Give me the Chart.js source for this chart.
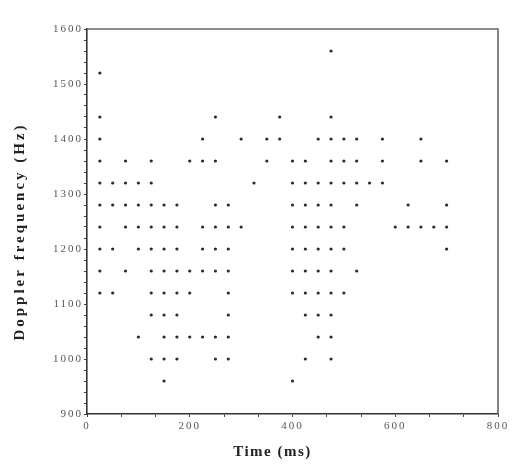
<!DOCTYPE html>
<html>
<head>
<meta charset="utf-8">
<script src="https://cdn.jsdelivr.net/npm/chart.js@4/dist/chart.umd.min.js"></script>
<style>
  html, body { margin: 0; padding: 0; background: #fff; }
  #wrap { width: 531px; height: 469px; }
</style>
</head>
<body>
<div id="wrap"><canvas id="doppler" width="531" height="469"></canvas></div>
<script>
// ── Daten: Zeitpunkte (ms) je Frequenzzeile (Hz) ──────────────

const f1560 = [475];
const f1520 = [25];
const f1440 = [25, 250, 375, 475];
const f1400 = [25, 225, 300, 350, 375, 450, 475, 500, 525, 575, 650];
const f1360 = [25, 75, 125, 200, 225, 250, 350, 400, 425, 475, 500, 525, 575, 650, 700];
const f1320 = [25, 50, 75, 100, 125, 325, 400, 425, 450, 475, 500, 525, 550, 575];
const f1280 = [25, 50, 75, 100, 125, 150, 175, 250, 275, 400, 425, 450, 475, 525, 625, 700];
const f1240 = [25, 75, 100, 125, 150, 175, 225, 250, 275, 300, 400, 425, 450, 475, 500, 600, 625, 650, 675, 700];
const f1200 = [25, 50, 100, 125, 150, 175, 225, 250, 275, 400, 425, 450, 475, 500, 700];
const f1160 = [25, 75, 125, 150, 175, 200, 225, 250, 275, 400, 425, 450, 475, 525];
const f1120 = [25, 50, 125, 150, 175, 200, 275, 400, 425, 450, 475, 500];
const f1080 = [125, 150, 175, 275, 425, 450, 475];
const f1040 = [100, 150, 175, 200, 225, 250, 275, 450, 475];
const f1000 = [125, 150, 175, 250, 275, 425, 475];
const f960  = [150, 400];

const rows = [
  [1560, f1560], [1520, f1520], [1440, f1440], [1400, f1400], [1360, f1360],
  [1320, f1320], [1280, f1280], [1240, f1240], [1200, f1200], [1160, f1160],
  [1120, f1120], [1080, f1080], [1040, f1040], [1000, f1000], [960, f960]
];

// Achsen
const xMin = 0, xMax = 800, xLabelStep = 200, xMinorPerLabel = 3;
const yMin = 900, yMax = 1600, yLabelStep = 100, yMinorStep = 20;

// ── Punkte zusammenbauen ─────────────────────────────────────

const points = [];
rows.forEach(([freq, times]) => {
  times.forEach(t => points.push({ x: t, y: freq }));
});

const serif = "'Liberation Serif', 'DejaVu Serif', serif";

// Rahmen oben / rechts + Sperrschrift für Tick-Labels
const framePlugin = {
  id: 'frame',
  beforeDraw(chart) {
    chart.ctx.letterSpacing = '2px';
  },
  afterDraw(chart) {
    const { ctx, chartArea: a } = chart;
    ctx.save();
    ctx.strokeStyle = '#666';
    ctx.lineWidth = 1.6;
    ctx.beginPath();
    ctx.moveTo(a.left, a.top);
    ctx.lineTo(a.right, a.top);
    ctx.lineTo(a.right, a.bottom);
    ctx.stroke();
    ctx.restore();
    ctx.letterSpacing = '0px';
  }
};

// Achsentitel gesperrt und leicht versetzt zeichnen
function spacedTitle(spacing, dx, dy) {
  return function (scale) {
    if (scale._spaced) return;
    const orig = scale.drawTitle;
    scale.drawTitle = function (...args) {
      const c = this.ctx;
      c.save();
      c.letterSpacing = spacing;
      c.translate(dx, dy);
      orig.apply(this, args);
      c.restore();
    };
    scale._spaced = true;
  };
}

new Chart(document.getElementById('doppler'), {
  type: 'scatter',
  data: {
    datasets: [{
      data: points,
      pointRadius: 1.6,
      pointHoverRadius: 1.6,
      backgroundColor: '#2a2a2a',
      borderWidth: 0
    }]
  },
  options: {
    responsive: false,
    animation: false,
    layout: { padding: { left: 0, right: 33, top: 29, bottom: 0 } },
    plugins: { legend: { display: false }, tooltip: { enabled: false } },
    scales: {
      x: {
        type: 'linear',
        min: xMin,
        max: xMax,
        afterBuildTicks(scale) {
          const step = xLabelStep / xMinorPerLabel;
          const n = Math.round((xMax - xMin) / step);
          const t = [];
          for (let i = 0; i <= n; i++) t.push({ value: xMin + i * step });
          scale.ticks = t;
        },
        afterFit(scale) { scale.height = 55; },
        afterUpdate: spacedTitle('1.5px', -20, 0),
        grid: { drawOnChartArea: false, drawTicks: true, tickLength: 3, color: '#444' },
        border: { display: true, color: '#333', width: 1.6 },
        ticks: {
          autoSkip: false,
          maxRotation: 0,
          padding: 3,
          color: '#555',
          font: { family: serif, size: 11 },
          callback(v) {
            const k = v / xLabelStep;
            return Math.abs(k - Math.round(k)) < 1e-6 ? String(Math.round(v)) : '';
          }
        },
        title: {
          display: true,
          text: 'Time (ms)',
          color: '#222',
          font: { family: serif, size: 15, weight: 'bold' },
          padding: { top: 0, bottom: 8 }
        }
      },
      y: {
        type: 'linear',
        min: yMin,
        max: yMax,
        afterFit(scale) { scale.width = 87; },
        afterUpdate: spacedTitle('3px', 5, 10),
        grid: { drawOnChartArea: false, drawTicks: true, tickLength: 3, color: '#444' },
        border: { display: true, color: '#333', width: 1.6 },
        ticks: {
          stepSize: yMinorStep,
          maxTicksLimit: 100,
          autoSkip: false,
          padding: 1,
          color: '#555',
          font: { family: serif, size: 11 },
          callback(v) { return v % yLabelStep === 0 ? String(v) : ''; }
        },
        title: {
          display: true,
          text: 'Doppler frequency (Hz)',
          color: '#222',
          font: { family: serif, size: 15, weight: 'bold' },
          padding: { top: 6, bottom: 0 }
        }
      }
    }
  },
  plugins: [framePlugin]
});
</script>
</body>
</html>
